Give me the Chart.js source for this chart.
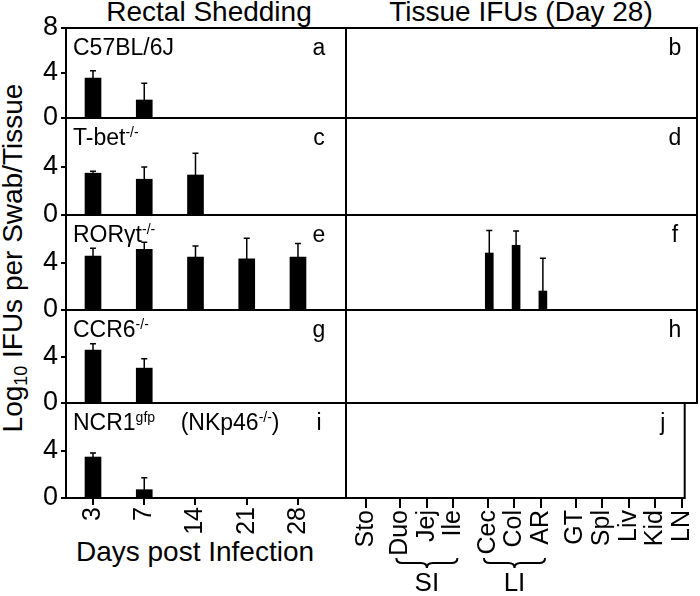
<!DOCTYPE html>
<html lang="en">
<head>
  <meta charset="UTF-8" />
  <title>Rectal Shedding / Tissue IFUs</title>
  <script src="https://cdn.jsdelivr.net/npm/chart.js"></script>
  <style>
    body {
      margin: 0;
      background: #fff;
      color: #000;
      font-family: "Liberation Sans", Arial, sans-serif;
    }
    #page {
      position: relative;
      width: 700px;
      height: 596px;
      overflow: hidden;
    }
    .panel {
      position: absolute;
    }
    .txt {
      position: absolute;
      white-space: nowrap;
      font-size: 28px;
      line-height: 28px;
    }
    .center {
      transform: translateX(-50%);
    }
    #ytitle {
      left: 13px;
      top: 258px;
      transform: translate(-50%, -50%) rotate(-90deg);
    }
    #ytitle sub {
      font-size: 0.64em;
      line-height: 0;
      vertical-align: -0.28em;
    }
  </style>
</head>
<body>
<div id="page">
  <div class="txt center" style="left:209px; top:-2px;">Rectal Shedding</div>
  <div class="txt center" style="left:521px; top:-2px;">Tissue IFUs (Day 28)</div>
  <div class="txt" id="ytitle">Log<sub>10</sub> IFUs per Swab/Tissue</div>
  <div class="txt center" style="left:195px; top:538px;">Days post Infection</div>
</div>

<script>
  // categories
  const days = ['3', '7', '14', '21', '28'];
  const tissues = ['Sto', 'Duo', 'Jej', 'Ile', 'Cec', 'Col', 'AR', 'GT', 'Spl', 'Liv', 'Kid', 'LN'];
  const tissueGroup = [0, 1, 1, 1, 2, 2, 2, 3, 3, 3, 3, 3];
  const braces = [
    { label: 'SI', from: 'Duo', to: 'Ile' },
    { label: 'LI', from: 'Cec', to: 'AR' }
  ];
  const yTicks = [0, 4, 8];

  // rectal shedding, log10 IFUs per swab (mean and top of error bar)
  const c57Mean = [3.55, 1.6];
  const c57Err = [4.2, 3.1];
  const tbetMean = [3.45, 2.95, 3.3];
  const tbetErr = [3.6, 3.95, 5.1];
  const rorgtMean = [4.55, 5.1, 4.45, 4.3, 4.45];
  const rorgtErr = [5.2, 5.7, 5.4, 6.05, 5.6];
  const ccr6Mean = [4.55, 3.0];
  const ccr6Err = [5.1, 3.8];
  const ncr1Mean = [3.45, 0.7];
  const ncr1Err = [3.8, 1.7];

  // tissue IFUs at day 28 (only RORγt-/- had any)
  const rorgtTissueMean = [null, null, null, null, 4.8, 5.45, 1.6, null, null, null, null, null];
  const rorgtTissueErr = [null, null, null, null, 6.7, 6.65, 4.35, null, null, null, null, null];

  // layout
  const P = 26;
  const Y_AXIS_W = 46;
  const COL_LEFT = 66, COL_MID = 346, COL_RIGHT = 697, COL_RIGHT_LAST = 688;
  const ROW_EDGES = [28, 118, 215, 310, 403, 498];
  const DAY_RANGE = [-0.527, 4.937];
  const TISSUE_RANGE = [-0.746, 12.35];
  const TISSUE_RANGE_LAST = [-0.746, 12.01];
  const GROUP_GAP = 0.3;
  const FONT = '"Liberation Sans", Arial, sans-serif';

  const dayX = days.map((d, i) => i);
  const tissueX = tissues.map((t, i) => i + tissueGroup[i] * GROUP_GAP);

  const rows = [
    { label: [['C57BL/6J']], letters: ['a', 'b'], mean: c57Mean, err: c57Err },
    { label: [['T-bet'], ['-/-', 1]], letters: ['c', 'd'], mean: tbetMean, err: tbetErr },
    { label: [['RORγt'], ['-/-', 1]], letters: ['e', 'f'], mean: rorgtMean, err: rorgtErr,
      tMean: rorgtTissueMean, tErr: rorgtTissueErr },
    { label: [['CCR6'], ['-/-', 1]], letters: ['g', 'h'], mean: ccr6Mean, err: ccr6Err },
    { label: [['NCR1'], ['gfp', 1], ['    (NKp46'], ['-/-', 1], [')']], letters: ['i', 'j'],
      mean: ncr1Mean, err: ncr1Err }
  ];

  // box around every panel
  const framePlugin = {
    id: 'frame',
    afterDraw(chart) {
      const { ctx, chartArea: a } = chart;
      ctx.save();
      ctx.strokeStyle = '#000';
      ctx.lineWidth = 2;
      ctx.strokeRect(a.left, a.top, a.right - a.left, a.bottom - a.top);
      ctx.restore();
    }
  };

  // upper error bars only
  const errorBarPlugin = {
    id: 'errorBars',
    afterDatasetsDraw(chart) {
      const { ctx } = chart;
      const y = chart.scales.y;
      const meta = chart.getDatasetMeta(0);
      const data = chart.data.datasets[0].data;
      ctx.save();
      ctx.strokeStyle = '#000';
      ctx.lineWidth = 1.5;
      meta.data.forEach((bar, i) => {
        const top = y.getPixelForValue(data[i].err);
        ctx.beginPath();
        ctx.moveTo(bar.x, bar.y);
        ctx.lineTo(bar.x, top);
        ctx.moveTo(bar.x - 3, top);
        ctx.lineTo(bar.x + 3, top);
        ctx.stroke();
      });
      ctx.restore();
    }
  };

  // text with superscripts
  function drawRich(ctx, x, y, parts, size) {
    parts.forEach(([t, sup]) => {
      const s = sup ? Math.round(size * 0.62) : size;
      ctx.font = s + 'px ' + FONT;
      ctx.fillText(t, x, sup ? y - size * 0.33 : y);
      x += ctx.measureText(t).width;
    });
  }

  function textPlugin(label, letter, letterInset) {
    return {
      id: 'panelText',
      afterDraw(chart) {
        const { ctx, chartArea: a } = chart;
        ctx.save();
        ctx.fillStyle = '#000';
        ctx.textBaseline = 'alphabetic';
        if (label) {
          ctx.textAlign = 'left';
          drawRich(ctx, a.left + 7, a.top + 27, label, 23);
        }
        ctx.textAlign = 'center';
        ctx.font = '23px ' + FONT;
        ctx.fillText(letter, a.right - letterInset, a.top + 27);
        ctx.restore();
      }
    };
  }

  // {SI} and {LI} under the tissue axis
  const bracePlugin = {
    id: 'braces',
    afterDraw(chart) {
      const { ctx, chartArea: a } = chart;
      const x = chart.scales.x;
      ctx.save();
      ctx.strokeStyle = '#000';
      ctx.fillStyle = '#000';
      ctx.lineWidth = 2;
      braces.forEach(b => {
        const x0 = x.getPixelForValue(tissueX[tissues.indexOf(b.from)]) - 4;
        const x1 = x.getPixelForValue(tissueX[tissues.indexOf(b.to)]) + 4;
        const xm = (x0 + x1) / 2, r = 6;
        const y0 = a.bottom + 60, ym = y0 + 5, y1 = y0 + 10;
        ctx.beginPath();
        ctx.moveTo(x0, y0);
        ctx.quadraticCurveTo(x0, ym, x0 + r, ym);
        ctx.lineTo(xm - r, ym);
        ctx.quadraticCurveTo(xm, ym, xm, y1);
        ctx.quadraticCurveTo(xm, ym, xm + r, ym);
        ctx.lineTo(x1 - r, ym);
        ctx.quadraticCurveTo(x1, ym, x1, y0);
        ctx.stroke();
        ctx.font = '26px ' + FONT;
        ctx.textAlign = 'center';
        ctx.textBaseline = 'alphabetic';
        ctx.fillText(b.label, xm, a.bottom + 93);
      });
      ctx.restore();
    }
  };

  function makePanel(c) {
    const box = document.createElement('div');
    box.className = 'panel';
    box.style.left = c.left + 'px';
    box.style.top = c.top + 'px';
    box.style.width = c.width + 'px';
    box.style.height = c.height + 'px';
    const canvas = document.createElement('canvas');
    box.appendChild(canvas);
    document.getElementById('page').appendChild(box);

    const points = [];
    (c.values || []).forEach((v, i) => {
      if (v !== null) points.push({ x: c.xs[i], y: v, err: c.errs[i] });
    });

    const xScale = {
      type: 'linear',
      min: c.range[0],
      max: c.range[1],
      offset: false,
      display: c.showX,
      afterBuildTicks: s => { s.ticks = c.xs.map(v => ({ value: v })); },
      ticks: {
        callback: (v, i) => c.xLabels[i],
        autoSkip: false,
        minRotation: 90,
        maxRotation: 90,
        padding: 2,
        color: '#000',
        font: { family: FONT, size: 25 }
      },
      grid: { display: true, offset: false, drawOnChartArea: false, drawTicks: true,
              tickLength: c.tickLen, color: '#000', lineWidth: 2 },
      border: { display: false }
    };
    if (c.showX) xScale.afterFit = s => { s.height = c.axisH; };

    const yScale = {
      min: 0,
      max: 8,
      display: c.showY,
      afterBuildTicks: s => { s.ticks = yTicks.map(v => ({ value: v })); },
      ticks: {
        callback: v => (v === 8 && !c.showTop) ? '' : v,
        padding: 3,
        color: '#000',
        font: { family: FONT, size: 27 }
      },
      grid: { display: true, drawOnChartArea: false, drawTicks: true, tickLength: 5,
              color: '#000', lineWidth: 2 },
      border: { display: false }
    };
    if (c.showY) yScale.afterFit = s => { s.width = Y_AXIS_W; };

    const plugins = [framePlugin, errorBarPlugin, textPlugin(c.label, c.letter, c.letterInset)];
    if (c.braces) plugins.push(bracePlugin);

    return new Chart(canvas, {
      type: 'bar',
      data: {
        datasets: [{
          data: points,
          backgroundColor: '#000',
          borderWidth: 0,
          barThickness: c.barW
        }]
      },
      options: {
        responsive: true,
        maintainAspectRatio: false,
        animation: false,
        layout: { padding: P },
        plugins: { legend: { display: false }, tooltip: { enabled: false } },
        scales: { x: xScale, y: yScale }
      },
      plugins: plugins
    });
  }

  rows.forEach((row, r) => {
    const top = ROW_EDGES[r];
    const h = ROW_EDGES[r + 1] - top;
    const last = r === rows.length - 1;

    // rectal shedding
    const lLeft = COL_LEFT - Y_AXIS_W - P;
    makePanel({
      left: lLeft,
      top: top - P,
      width: COL_MID + P - lLeft,
      height: h + 2 * P + (last ? 45 : 0),
      values: row.mean, errs: row.err, xs: dayX, xLabels: days,
      range: DAY_RANGE, barW: 16, tickLen: 7, axisH: 45,
      showX: last, showY: true, showTop: r === 0,
      label: row.label, letter: row.letters[0], letterInset: 27
    });

    // tissue IFUs
    const rLeft = COL_MID - P;
    makePanel({
      left: rLeft,
      top: top - P,
      width: (last ? COL_RIGHT_LAST : COL_RIGHT) + P - rLeft,
      height: h + 2 * P + (last ? 100 : 0),
      values: row.tMean, errs: row.tErr, xs: tissueX, xLabels: tissues,
      range: last ? TISSUE_RANGE_LAST : TISSUE_RANGE, barW: 8, tickLen: 10, axisH: 100,
      showX: last, showY: false, showTop: false,
      label: null, letter: row.letters[1], letterInset: 22, braces: last
    });
  });
</script>
</body>
</html>
